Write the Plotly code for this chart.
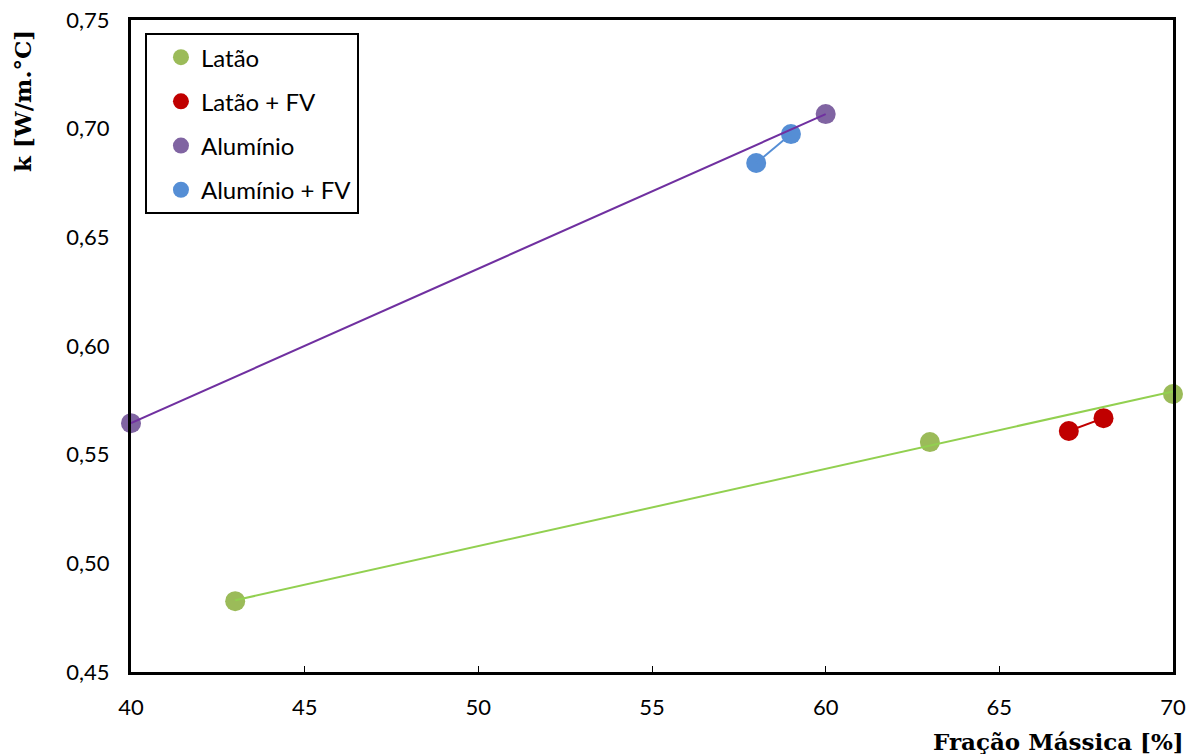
import numpy as np
import plotly.graph_objects as go

# Thermal conductivity vs. mass fraction
latao_x = [43, 63, 70]
latao_k = [0.4826, 0.5558, 0.5779]
latao_fv_x = [67, 68]
latao_fv_k = [0.5609, 0.5668]
aluminio_x = [40, 60]
aluminio_k = [0.5645, 0.7067]
aluminio_fv_x = [58, 59]
aluminio_fv_k = [0.6842, 0.6975]

x_ticks = [40, 45, 50, 55, 60, 65, 70]
y_ticks = [0.45, 0.50, 0.55, 0.60, 0.65, 0.70, 0.75]

series = [
    ("Latão", latao_x, latao_k, "#9BBB59", "#92D050", True),
    ("Latão + FV", latao_fv_x, latao_fv_k, "#C00000", "#C00000", False),
    ("Alumínio", aluminio_x, aluminio_k, "#8064A2", "#7030A0", True),
    ("Alumínio + FV", aluminio_fv_x, aluminio_fv_k, "#558ED5", "#558ED5", False),
]

fig = go.Figure()

# markers first, so that the lines sit on top
for i, (name, xs, ks, mcol, lcol, trend) in enumerate(series):
    fig.add_trace(go.Scatter(
        x=xs, y=ks, mode="markers", name=name,
        legendgroup=f"g{i}",
        marker=dict(size=20, color=mcol),
        cliponaxis=False,
    ))

for i, (name, xs, ks, mcol, lcol, trend) in enumerate(series):
    if trend:
        coef = np.polyfit(xs, ks, 1)
        lx = [min(xs), max(xs)]
        ly = list(np.polyval(coef, lx))
    else:
        lx, ly = xs, ks
    fig.add_trace(go.Scatter(
        x=lx, y=ly, mode="lines", showlegend=False,
        legendgroup=f"g{i}",
        line=dict(color=lcol, width=2),
        hoverinfo="skip",
    ))

tick_font = dict(family="Lato, 'Open Sans', sans-serif", size=22, color="#000000")
title_font = dict(family="'DejaVu Serif', serif", size=23, color="#000000")

fig.update_xaxes(
    range=[40, 70], tickvals=x_ticks, ticktext=[str(v) for v in x_ticks],
    showgrid=False, zeroline=False, automargin=False,
    showline=True, linecolor="#000000", linewidth=3, mirror=True,
    ticks="inside", ticklen=6, tickwidth=1, tickcolor="#000000",
    tickfont=tick_font, ticklabelstandoff=14,
)
fig.update_yaxes(
    range=[0.45, 0.75], tickvals=y_ticks,
    ticktext=[f"{v:.2f}".replace(".", ",") for v in y_ticks],
    showgrid=False, zeroline=False, automargin=False,
    showline=True, linecolor="#000000", linewidth=3, mirror=True,
    ticks="", tickfont=tick_font, ticklabelstandoff=14,
)

fig.add_annotation(
    text="<b>Fração Mássica [%]</b>", xref="paper", yref="paper",
    x=1.012, y=0, xanchor="right", yanchor="top", yshift=-54,
    showarrow=False, font=title_font,
)
fig.add_annotation(
    text="<b>k [W/m.°C]</b>", xref="paper", yref="paper",
    x=0, y=1, xanchor="center", yanchor="top",
    xshift=-109, yshift=-8, textangle=-90,
    showarrow=False, font=title_font,
)

fig.update_layout(
    width=1200, height=754,
    margin=dict(l=131, r=27, t=20, b=82),
    paper_bgcolor="#FFFFFF", plot_bgcolor="#FFFFFF",
    legend=dict(
        x=0.0134, y=0.98, xanchor="left", yanchor="top",
        bgcolor="#FFFFFF", bordercolor="#000000", borderwidth=2,
        font=dict(family="Lato, 'Open Sans', sans-serif", size=24, color="#000000"),
        traceorder="grouped", tracegroupgap=10,
        itemsizing="trace", itemwidth=30, indentation=14,
    ),
)

fig.write_html("out.html")
